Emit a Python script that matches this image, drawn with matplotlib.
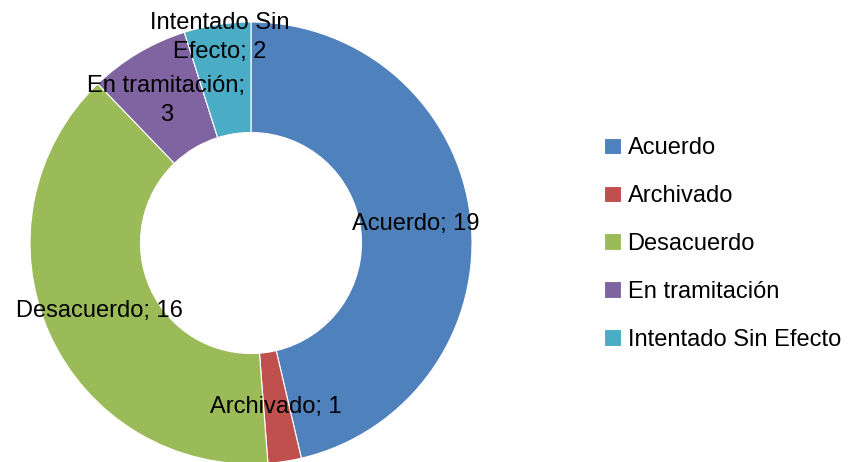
import numpy as np
import matplotlib.pyplot as plt

categories = ["Acuerdo", "Archivado", "Desacuerdo", "En tramitación", "Intentado Sin Efecto"]
values = [19, 1, 16, 3, 2]
label_texts = ["Acuerdo; 19", "Archivado; 1", "Desacuerdo; 16", "En tramitación;\n3", "Intentado Sin\nEfecto; 2"]
colors = ["#4F81BD", "#C0504D", "#9BBB59", "#8064A2", "#4BACC6"]

plt.rcParams['font.family'] = ['Liberation Sans', 'DejaVu Sans']
fs = 17

fig = plt.figure(figsize=(8.5, 4.62), dpi=100)
ax = fig.add_axes([30/850, -2/462, 442/850, 442/462])

wedges, _ = ax.pie(values, colors=colors, startangle=90, counterclock=False,
                   radius=1, wedgeprops=dict(width=0.5, edgecolor="white", linewidth=0.8))
ax.set_xlim(-1, 1)
ax.set_ylim(-1, 1)
ax.set_aspect("equal")

# labels in the middle of the ring, last one pushed outward like the original
total = sum(values)
cum = np.cumsum(values) - np.array(values) / 2
radii = [0.75, 0.75, 0.75, 0.75, 0.94]
for txt, c, r in zip(label_texts, cum, radii):
    ang = np.deg2rad(90 - c / total * 360)
    ax.text(r * np.cos(ang), r * np.sin(ang), txt, ha="center", va="center",
            fontsize=fs, linespacing=1.4)

fig.legend(wedges, categories, loc="center left", bbox_to_anchor=(604/850, 1 - 244/462),
           frameon=False, fontsize=fs, handlelength=0.7, handleheight=0.7,
           handletextpad=0.3, labelspacing=1.1, borderpad=0, borderaxespad=0)

fig.savefig("out.png", dpi=100)
